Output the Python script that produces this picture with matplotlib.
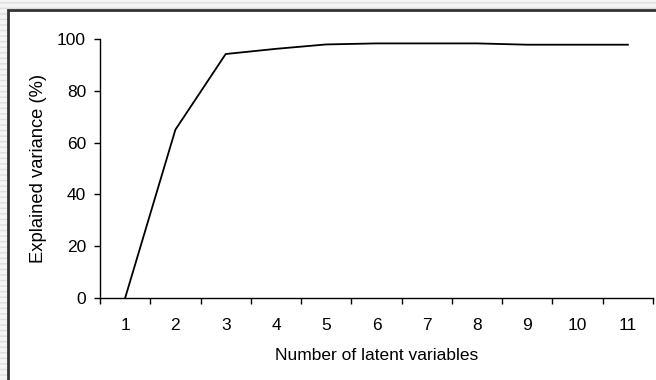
import matplotlib.pyplot as plt
from matplotlib.patches import Rectangle

# explained variance for each number of latent variables
latent = [1, 2, 3, 4, 5, 6, 7, 8, 9, 10, 11]
explained = [0, 65, 94.2, 96.2, 97.9, 98.3, 98.3, 98.3, 97.8, 97.8, 97.8]
yticks = [0, 20, 40, 60, 80, 100]

plt.rcParams['font.family'] = ['Liberation Sans', 'DejaVu Sans']

fig = plt.figure(figsize=(6.56, 3.8), dpi=100)
fig.patch.set_facecolor('#f4f4f4')

# striped background + chart frame (kept behind the axes)
fig.patches.append(Rectangle((0, 0), 1, 1, transform=fig.transFigure,
                             facecolor='#f4f4f4', edgecolor='#dddddd',
                             hatch='---', linewidth=0, zorder=-2))
fig.patches.append(Rectangle((8 / 656, -0.05), 1.1, (370 / 380) + 0.05,
                             transform=fig.transFigure, facecolor='white',
                             edgecolor='#333333', linewidth=2, zorder=-1))

ax = fig.add_axes([100 / 656, 82 / 380, 553 / 656, 259 / 380])
ax.patch.set_alpha(0)
ax.plot(latent, explained, color='black', linewidth=1.3)

ax.set_xlim(0.5, 11.5)
ax.set_ylim(0, 100)
ax.set_yticks(yticks)
ax.set_xticks(latent)
ax.set_xticks([x + 0.5 for x in [0] + latent], minor=True)
ax.tick_params(axis='x', which='major', length=0, pad=14.5, labelsize=12.5)
ax.tick_params(axis='x', which='minor', length=4, direction='out', width=1)
ax.tick_params(axis='y', length=4, direction='out', width=1, pad=6, labelsize=12.5)

for s in ['top', 'right']:
    ax.spines[s].set_visible(False)
ax.spines['left'].set_linewidth(1)
ax.spines['bottom'].set_linewidth(1)

ax.set_xlabel('Number of latent variables', fontsize=12.5, labelpad=11)
ax.set_ylabel('Explained variance (%)', fontsize=13.2, labelpad=7)

fig.savefig('out.png', dpi=100)
